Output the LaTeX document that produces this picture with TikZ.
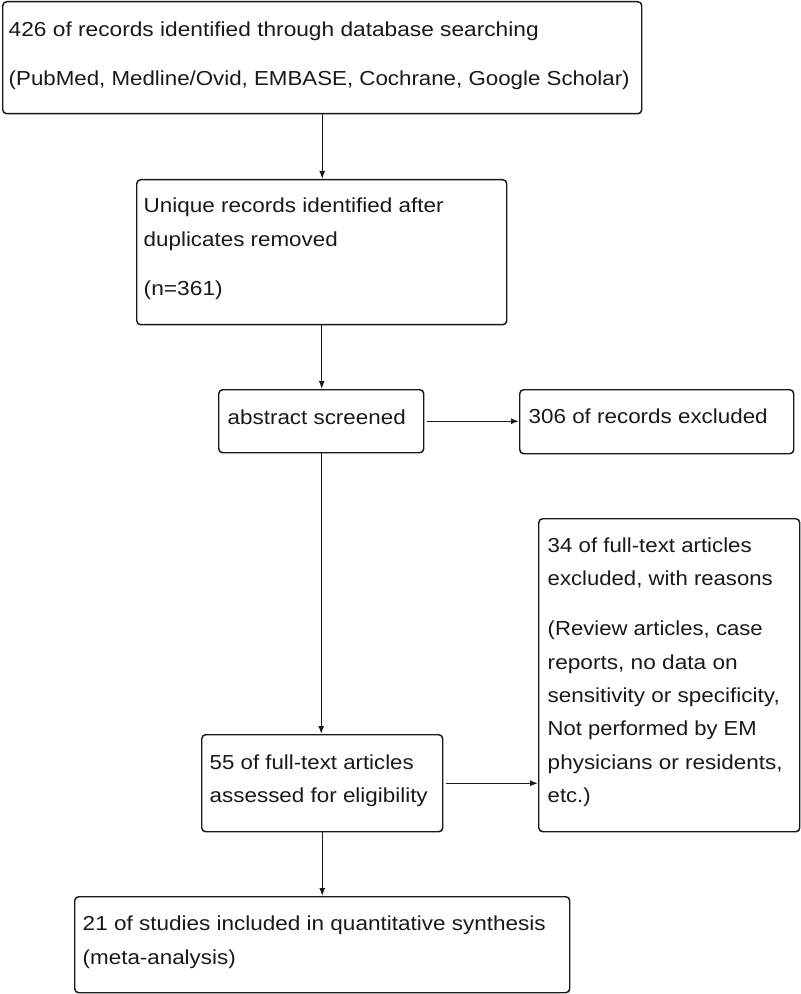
\documentclass[tikz,border=0pt]{standalone}
\usepackage{fontspec}
\setmainfont{Liberation Sans}
\usetikzlibrary{arrows.meta,calc}
\newdimen\pxu \pxu=0.75pt
% \tl{gap to baseline}{indent}{width}{text}
\newcommand\tl[4]{\hbox to \hsize{\rule{0pt}{#1\pxu}\hspace*{#2\pxu}\smash{\resizebox{#3\pxu}{\height}{#4}}\hfil}}
\newcommand\pb[3]{\parbox[c][#1\pxu][t]{#2\pxu}{\offinterlineskip #3}}
\tikzset{
  box/.style={draw=black!90, line width=1.1pt, rounded corners=3pt, inner sep=0pt, anchor=north west,
              font=\fontsize{15.2pt}{18pt}\selectfont, text=black!90},
  arr/.style={draw=black!90, line width=1pt, -{Latex[length=6pt,width=4.5pt]}}
}
\begin{document}
\begin{tikzpicture}[x=0.75pt,y=-0.75pt]
\useasboundingbox (0,0) rectangle (800,994);
\fill[white] (0,0) rectangle (800,994);

\node[box] (b1) at (2,1) {\pb{112}{639}{%
  \tl{35}{6}{530}{426 of records identified through database searching}%
  \tl{49}{6}{621}{(PubMed, Medline/Ovid, EMBASE, Cochrane, Google Scholar)}}};

\node[box] (b2) at (136,179) {\pb{145}{370}{%
  \tl{33}{7}{300}{Unique records identified after}%
  \tl{34}{7}{194}{duplicates removed}%
  \tl{49}{7}{79}{(n=361)}}};

\node[box] (b3) at (218,389) {\pb{63}{205}{%
  \tl{35}{9}{178}{abstract screened}}};

\node[box] (b4) at (519,389) {\pb{64}{274}{%
  \tl{34}{9}{239}{306 of records excluded}}};

\node[box] (b5) at (201,734) {\pb{97}{241}{%
  \tl{35}{8}{204}{55 of full-text articles}%
  \tl{33}{8}{218}{assessed for eligibility}}};

\node[box] (b6) at (538,518) {\pb{313}{261}{%
  \tl{34}{9}{204}{34 of full-text articles}%
  \tl{33}{9}{225}{excluded, with reasons}%
  \tl{50}{9}{215}{(Review articles, case}%
  \tl{34}{9}{190}{reports, no data on}%
  \tl{33}{9}{232}{sensitivity or specificity,}%
  \tl{33}{9}{209}{Not performed by EM}%
  \tl{34}{9}{235}{physicians or residents,}%
  \tl{33}{9}{43}{etc.)}}};

\node[box] (b7) at (74,896) {\pb{96}{495}{%
  \tl{34}{8}{463}{21 of studies included in quantitative synthesis}%
  \tl{34}{8}{153}{(meta-analysis)}}};

\draw[arr] (b1.south) -- (b1.south |- b2.north);
\draw[arr] (b2.south) -- (b2.south |- b3.north);
\draw[arr] ([xshift=2.25pt]b3.east) -- (b3.east -| b4.west);
\draw[arr] (b3.south) -- (b3.south |- b5.north);
\draw[arr] ([xshift=2.25pt]b5.east) -- (b5.east -| b6.west);
\draw[arr] (b5.south) -- (b5.south |- b7.north);
\end{tikzpicture}
\end{document}
